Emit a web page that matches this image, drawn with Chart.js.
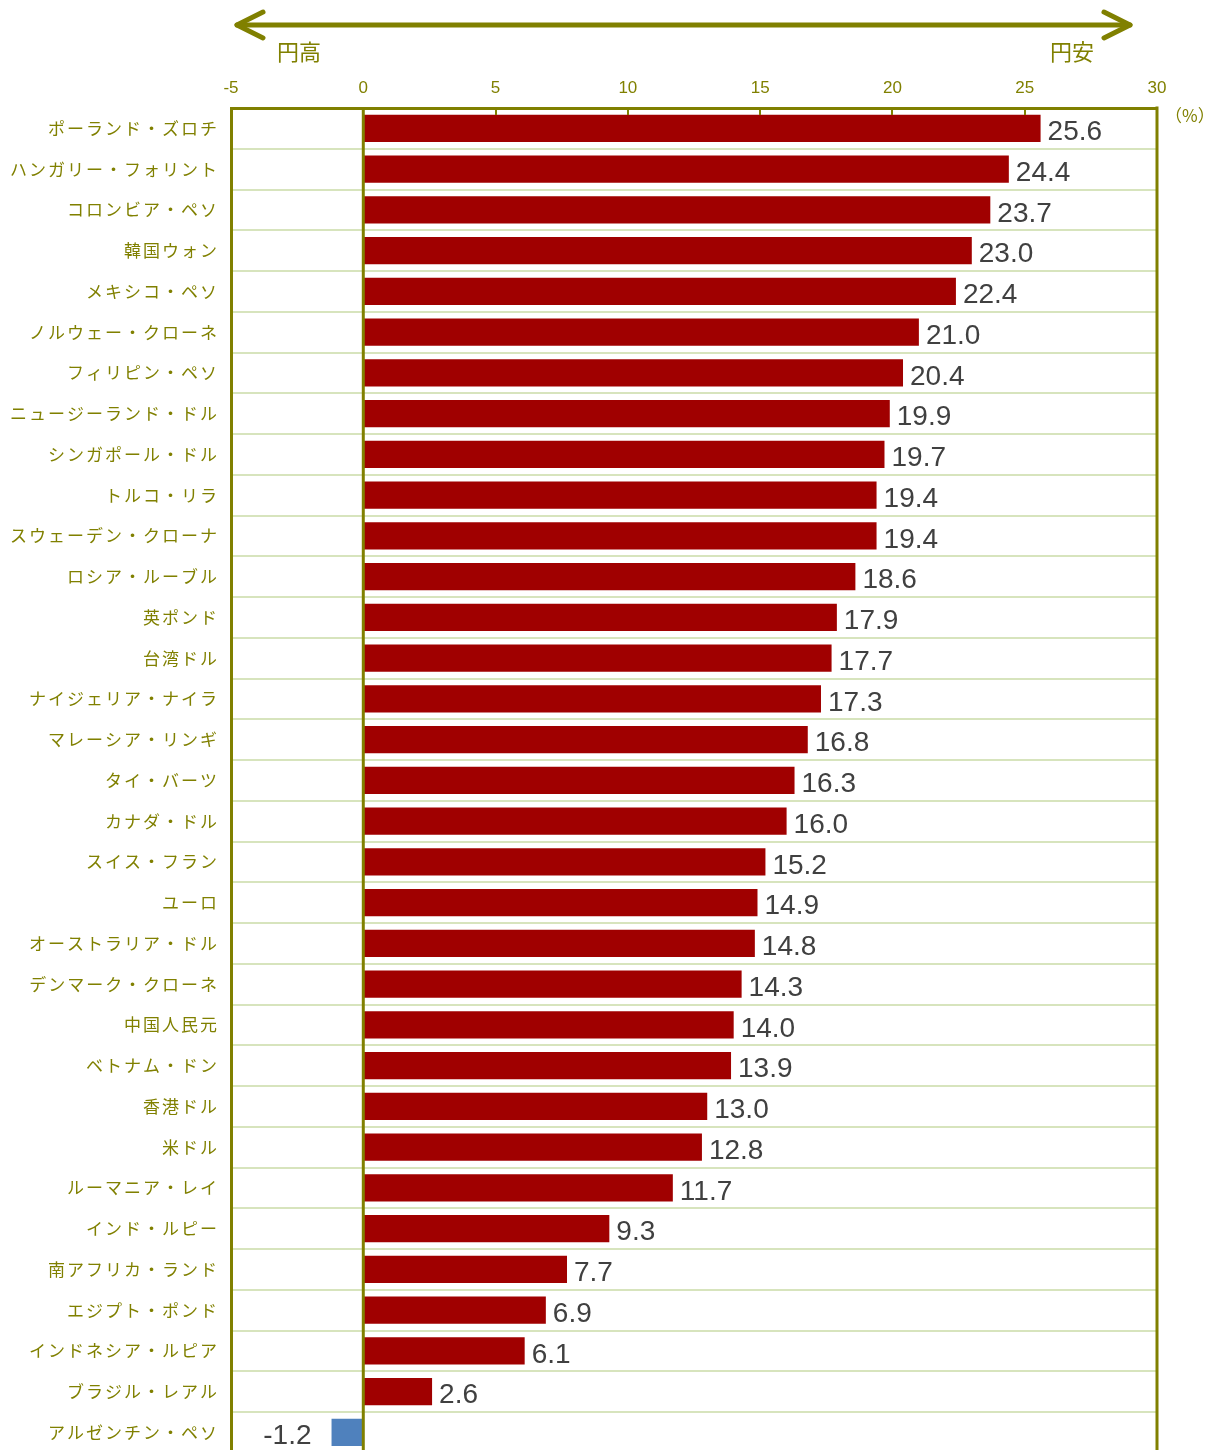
<!DOCTYPE html>
<html>
<head>
<meta charset="utf-8">
<script src="https://cdn.jsdelivr.net/npm/chart.js@4"></script>
<style>
  html, body { margin: 0; padding: 0; background: #fff; overflow: hidden; }
  canvas { display: block; }
</style>
</head>
<body>
<canvas id="chart" width="1208" height="1475"></canvas>
<script>
// Currency depreciation vs. yen (%), top to bottom
const currencies = [
  'ポーランド・ズロチ', 'ハンガリー・フォリント', 'コロンビア・ペソ', '韓国ウォン',
  'メキシコ・ペソ', 'ノルウェー・クローネ', 'フィリピン・ペソ', 'ニュージーランド・ドル',
  'シンガポール・ドル', 'トルコ・リラ', 'スウェーデン・クローナ', 'ロシア・ルーブル',
  '英ポンド', '台湾ドル', 'ナイジェリア・ナイラ', 'マレーシア・リンギ',
  'タイ・バーツ', 'カナダ・ドル', 'スイス・フラン', 'ユーロ',
  'オーストラリア・ドル', 'デンマーク・クローネ', '中国人民元', 'ベトナム・ドン',
  '香港ドル', '米ドル', 'ルーマニア・レイ', 'インド・ルピー',
  '南アフリカ・ランド', 'エジプト・ポンド', 'インドネシア・ルピア', 'ブラジル・レアル',
  'アルゼンチン・ペソ'
];
const changes = [
  25.6, 24.4, 23.7, 23.0,
  22.4, 21.0, 20.4, 19.9,
  19.7, 19.4, 19.4, 18.6,
  17.9, 17.7, 17.3, 16.8,
  16.3, 16.0, 15.2, 14.9,
  14.8, 14.3, 14.0, 13.9,
  13.0, 12.8, 11.7, 9.3,
  7.7, 6.9, 6.1, 2.6,
  -1.2
];
const xMin = -5;
const xMax = 30;
const xStep = 5;
const unitLabel = '（%）';
const leftArrowLabel = '円高';
const rightArrowLabel = '円安';

const OLIVE = '#808000';
const GRID = '#D7E4BD';
const JP_FONT = '"Noto Sans CJK JP", "Noto Sans", sans-serif';
const NUM_FONT = '"Liberation Sans", Arial, sans-serif';

// category labels in the reference are letter-spaced; the y axis is drawn
// before the datasets (x tick labels are moved after them), so spacing is on only there
const spacing = {
  id: 'spacing',
  beforeDraw(chart) { chart.ctx.letterSpacing = '2px'; },
  beforeDatasetsDraw(chart) { chart.ctx.letterSpacing = '0px'; },
};

// value labels, arrow, inner tick marks, right border
const decorations = {
  id: 'decorations',
  afterDatasetsDraw(chart) {
    const { ctx, chartArea: area, scales: { x } } = chart;
    ctx.save();
    ctx.letterSpacing = '0px';

    // zero line on top of bars
    ctx.strokeStyle = OLIVE;
    ctx.lineWidth = 3;
    ctx.beginPath();
    ctx.moveTo(x.getPixelForValue(0), area.top);
    ctx.lineTo(x.getPixelForValue(0), area.bottom);
    ctx.stroke();

    // short tick marks hanging from the top border
    ctx.lineWidth = 2;
    for (let v = xMin + xStep; v < xMax; v += xStep) {
      if (v === 0) continue;
      const px = Math.round(x.getPixelForValue(v));
      ctx.beginPath();
      ctx.moveTo(px, area.top);
      ctx.lineTo(px, area.top + 7);
      ctx.stroke();
    }

    // right border
    ctx.lineWidth = 3;
    ctx.beginPath();
    ctx.moveTo(area.right, area.top - 1.5);
    ctx.lineTo(area.right, area.bottom);
    ctx.stroke();

    // value labels
    ctx.font = '28px ' + NUM_FONT;
    ctx.fillStyle = '#404040';
    ctx.textBaseline = 'middle';
    const meta = chart.getDatasetMeta(0);
    meta.data.forEach((bar, i) => {
      const v = changes[i];
      const txt = v.toFixed(1);
      if (v >= 0) {
        ctx.textAlign = 'left';
        ctx.fillText(txt, bar.x + 7, bar.y + 4);
      } else {
        ctx.textAlign = 'right';
        ctx.fillText(txt, bar.x - 20, bar.y + 4);
      }
    });

    // unit
    ctx.font = '17px ' + JP_FONT;
    ctx.fillStyle = OLIVE;
    ctx.textAlign = 'left';
    ctx.fillText(unitLabel, area.right + 8, area.top + 8);

    // double arrow
    const ay = 25;
    const ax1 = area.left + 6;
    const ax2 = area.right - 27;
    ctx.strokeStyle = OLIVE;
    ctx.lineWidth = 5;
    ctx.lineCap = 'round';
    ctx.lineJoin = 'round';
    ctx.beginPath();
    ctx.moveTo(ax1, ay);
    ctx.lineTo(ax2, ay);
    ctx.stroke();
    ctx.beginPath();
    ctx.moveTo(ax1 + 26, ay - 13);
    ctx.lineTo(ax1, ay);
    ctx.lineTo(ax1 + 26, ay + 13);
    ctx.stroke();
    ctx.beginPath();
    ctx.moveTo(ax2 - 26, ay - 13);
    ctx.lineTo(ax2, ay);
    ctx.lineTo(ax2 - 26, ay + 13);
    ctx.stroke();

    ctx.font = '22px ' + JP_FONT;
    ctx.textAlign = 'center';
    ctx.fillText(leftArrowLabel, ax1 + 62, 52);
    ctx.fillText(rightArrowLabel, ax2 - 58, 52);

    ctx.restore();
  }
};

new Chart(document.getElementById('chart'), {
  type: 'bar',
  data: {
    labels: currencies,
    datasets: [{
      data: changes,
      backgroundColor: changes.map(v => (v < 0 ? '#4F81BD' : '#A00000')),
      borderWidth: 0,
      barPercentage: 0.67,
      categoryPercentage: 1.0,
    }],
  },
  options: {
    indexAxis: 'y',
    responsive: false,
    animation: false,
    layout: { padding: { top: 71, right: 51, bottom: 8, left: 0 } },
    plugins: {
      legend: { display: false },
      tooltip: { enabled: false },
    },
    scales: {
      x: {
        position: 'top',
        min: xMin,
        max: xMax,
        ticks: {
          stepSize: xStep,
          color: OLIVE,
          font: { family: NUM_FONT, size: 17 },
          padding: 9,
          z: 1,
        },
        grid: { display: false, drawTicks: false },
        border: { color: OLIVE, width: 3 },
        afterFit(scale) { scale.height = 37; },
      },
      y: {
        ticks: {
          color: OLIVE,
          font: { family: JP_FONT, size: 17 },
          padding: 12,
        },
        grid: { color: GRID, lineWidth: 2, drawTicks: false },
        border: { color: OLIVE, width: 3 },
        afterFit(scale) { scale.width = 231; },
      },
    },
  },
  plugins: [spacing, decorations],
});
</script>
</body>
</html>
